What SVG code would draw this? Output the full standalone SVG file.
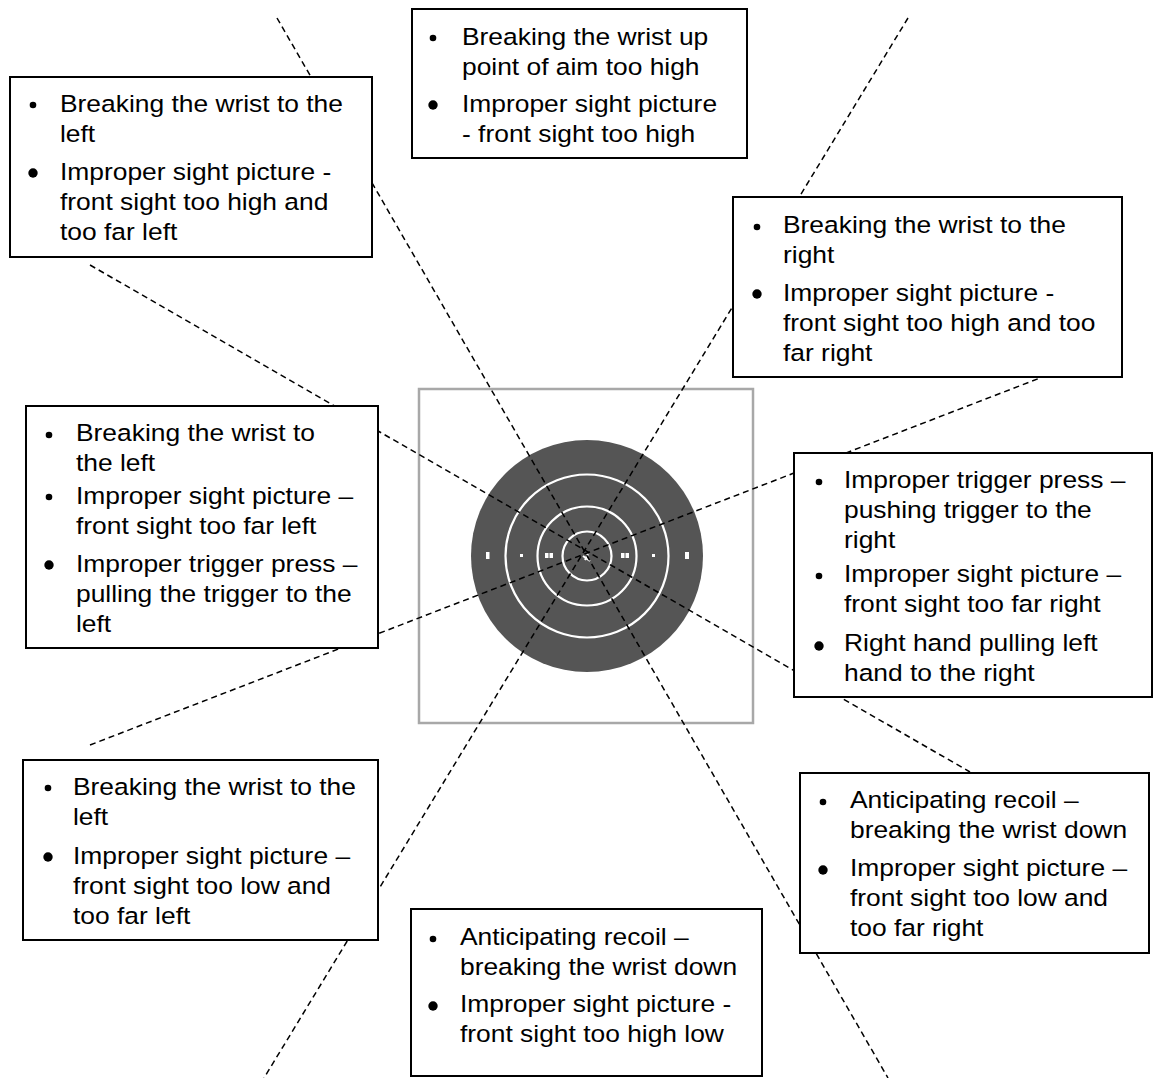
<svg xmlns="http://www.w3.org/2000/svg" width="1154" height="1078" viewBox="0 0 1154 1078">
<style>
.box{fill:#fff;stroke:#000;stroke-width:2}
.conn{stroke:#000;stroke-width:1.5;stroke-dasharray:6 4;fill:none}
text{font-family:"Liberation Sans",Arial,sans-serif;font-size:23.3px;fill:#000}
.b{fill:#000}
.ring{fill:none;stroke:#fff;stroke-width:2.2}
.dot{fill:#fff}
</style>
<rect width="1154" height="1078" fill="#fff"/>
<g id="target">
<rect x="419" y="389" width="334" height="334" fill="#fff" stroke="#a8a8a8" stroke-width="2.5"/>
<circle cx="587" cy="556" r="116" fill="#555"/>
<circle class="ring" cx="587" cy="556" r="81.5"/>
<circle class="ring" cx="587" cy="556" r="49.5"/>
<circle class="ring" cx="587" cy="556" r="24.5"/>
<rect class="dot" x="486" y="552" width="3.5" height="7"/>
<rect class="dot" x="520" y="554" width="3" height="3"/>
<rect class="dot" x="545" y="553" width="3.5" height="5"/>
<rect class="dot" x="549.5" y="553" width="3.5" height="5"/>
<rect class="dot" x="621" y="553" width="3.5" height="5"/>
<rect class="dot" x="625.5" y="553" width="3.5" height="5"/>
<rect class="dot" x="652" y="554" width="3" height="3"/>
<rect class="dot" x="685" y="552" width="4" height="7"/>
<path d="M583 556 L590 561 M588 554 L585 560" stroke="#fff" stroke-width="2"/>
</g>
<g id="connectors">
<line class="conn" x1="277" y1="18" x2="888" y2="1078"/>
<line class="conn" x1="908" y1="18" x2="264" y2="1078"/>
<line class="conn" x1="90" y1="265" x2="970" y2="772"/>
<line class="conn" x1="90" y1="745" x2="1040" y2="378"/>
</g>
<g id="box-top-left">
<rect class="box" x="10" y="77" width="362" height="180"/>
<circle class="b" cx="33" cy="105" r="3.3"/>
<circle class="b" cx="33" cy="173" r="4.7"/>
<g transform="translate(60 0) scale(1.133 1)">
<text x="0" y="112">Breaking the wrist to the</text>
<text x="0" y="142">left</text>
<text x="0" y="180">Improper sight picture -</text>
<text x="0" y="210">front sight too high and</text>
<text x="0" y="240">too far left</text>
</g>
</g>
<g id="box-top">
<rect class="box" x="412" y="9" width="335" height="149"/>
<circle class="b" cx="433" cy="38" r="3.3"/>
<circle class="b" cx="433" cy="105" r="4.7"/>
<g transform="translate(462 0) scale(1.133 1)">
<text x="0" y="45">Breaking the wrist up</text>
<text x="0" y="75">point of aim too high</text>
<text x="0" y="112">Improper sight picture</text>
<text x="0" y="142">- front sight too high</text>
</g>
</g>
<g id="box-top-right">
<rect class="box" x="733" y="197" width="389" height="180"/>
<circle class="b" cx="757" cy="227" r="3.3"/>
<circle class="b" cx="757" cy="294" r="4.7"/>
<g transform="translate(783 0) scale(1.133 1)">
<text x="0" y="233">Breaking the wrist to the</text>
<text x="0" y="263">right</text>
<text x="0" y="301">Improper sight picture -</text>
<text x="0" y="331">front sight too high and too</text>
<text x="0" y="361">far right</text>
</g>
</g>
<g id="box-left">
<rect class="box" x="26" y="406" width="352" height="242"/>
<circle class="b" cx="49" cy="435" r="3.3"/>
<circle class="b" cx="49" cy="497" r="3.3"/>
<circle class="b" cx="49" cy="565" r="4.7"/>
<g transform="translate(76 0) scale(1.133 1)">
<text x="0" y="441">Breaking the wrist to</text>
<text x="0" y="471">the left</text>
<text x="0" y="504">Improper sight picture –</text>
<text x="0" y="534">front sight too far left</text>
<text x="0" y="572">Improper trigger press –</text>
<text x="0" y="602">pulling the trigger to the</text>
<text x="0" y="632">left</text>
</g>
</g>
<g id="box-right">
<rect class="box" x="794" y="453" width="358" height="244"/>
<circle class="b" cx="819" cy="482" r="3.3"/>
<circle class="b" cx="819" cy="576" r="3.3"/>
<circle class="b" cx="819" cy="646" r="4.7"/>
<g transform="translate(844 0) scale(1.133 1)">
<text x="0" y="488">Improper trigger press –</text>
<text x="0" y="518">pushing trigger to the</text>
<text x="0" y="548">right</text>
<text x="0" y="582">Improper sight picture –</text>
<text x="0" y="612">front sight too far right</text>
<text x="0" y="651">Right hand pulling left</text>
<text x="0" y="681">hand to the right</text>
</g>
</g>
<g id="box-bottom-right">
<rect class="box" x="800" y="773" width="349" height="180"/>
<circle class="b" cx="823" cy="802" r="3.3"/>
<circle class="b" cx="823" cy="870" r="4.7"/>
<g transform="translate(850 0) scale(1.133 1)">
<text x="0" y="808">Anticipating recoil –</text>
<text x="0" y="838">breaking the wrist down</text>
<text x="0" y="876">Improper sight picture –</text>
<text x="0" y="906">front sight too low and</text>
<text x="0" y="936">too far right</text>
</g>
</g>
<g id="box-bottom-left">
<rect class="box" x="23" y="760" width="355" height="180"/>
<circle class="b" cx="48" cy="788" r="3.3"/>
<circle class="b" cx="48" cy="857" r="4.7"/>
<g transform="translate(73 0) scale(1.133 1)">
<text x="0" y="795">Breaking the wrist to the</text>
<text x="0" y="825">left</text>
<text x="0" y="864">Improper sight picture –</text>
<text x="0" y="894">front sight too low and</text>
<text x="0" y="924">too far left</text>
</g>
</g>
<g id="box-bottom">
<rect class="box" x="411" y="909" width="351" height="167"/>
<circle class="b" cx="433" cy="939" r="3.3"/>
<circle class="b" cx="433" cy="1006" r="4.7"/>
<g transform="translate(460 0) scale(1.133 1)">
<text x="0" y="945">Anticipating recoil –</text>
<text x="0" y="975">breaking the wrist down</text>
<text x="0" y="1012">Improper sight picture -</text>
<text x="0" y="1042">front sight too high low</text>
</g>
</g>
</svg>
